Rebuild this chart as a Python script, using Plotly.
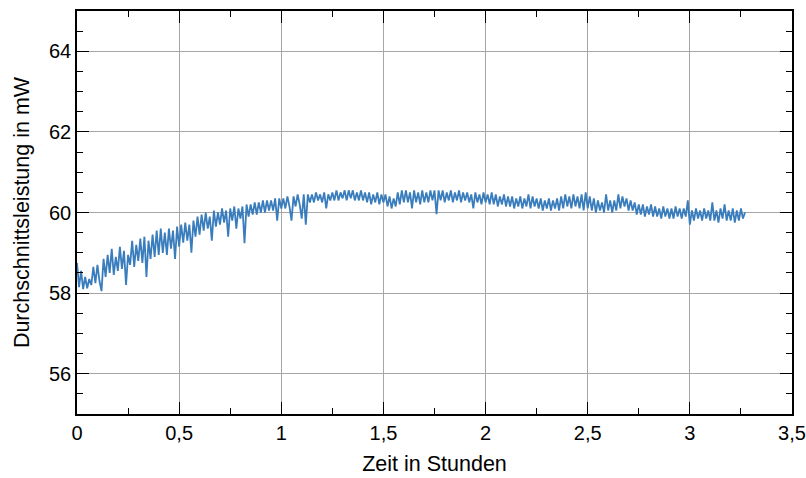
import numpy as np
import plotly.graph_objects as go

# Average power (mW), one sample every 0.01 h
p_mw = [
    # 0.00 - 0.10
    58.75, 58.15, 58.55, 58.10, 58.40, 58.12, 58.35, 58.20, 58.65, 58.25, 58.70,
    # 0.11 - 0.20
    58.30, 58.05, 58.85, 58.40, 58.95, 58.50, 59.10, 58.45, 58.90, 58.55,
    # 0.21 - 0.30
    59.15, 58.60, 59.05, 58.20, 58.95, 58.70, 59.30, 58.65, 59.20, 58.80,
    # 0.31 - 0.40
    59.35, 58.75, 59.40, 58.40, 59.30, 58.85, 59.45, 58.90, 59.55, 58.95,
    # 0.41 - 0.50
    59.60, 59.00, 59.50, 58.95, 59.60, 59.10, 59.55, 58.85, 59.65, 59.15,
    # 0.51 - 0.60
    59.70, 59.25, 59.75, 59.30, 59.70, 59.00, 59.80, 59.40, 59.90, 59.45,
    # 0.61 - 0.70
    59.95, 59.55, 60.00, 59.60, 59.90, 59.30, 60.05, 59.65, 60.00, 59.70,
    # 0.71 - 0.80
    60.10, 59.75, 60.05, 59.40, 60.10, 59.80, 60.15, 59.60, 60.10, 59.85,
    # 0.81 - 0.90
    60.15, 59.24, 60.20, 59.90, 60.20, 59.95, 60.25, 59.95, 60.25, 60.00,
    # 0.91 - 1.00
    60.30, 60.00, 60.30, 60.05, 60.30, 60.05, 60.35, 59.80, 60.35, 60.10,
    # 1.01 - 1.10
    60.35, 60.10, 60.40, 60.15, 59.80, 60.40, 60.15, 60.45, 60.20, 59.85,
    # 1.11 - 1.20
    60.45, 59.70, 60.45, 60.25, 60.45, 60.25, 60.50, 60.30, 60.45, 60.25,
    # 1.21 - 1.30
    60.50, 60.10, 60.45, 60.30, 60.50, 60.30, 60.55, 60.30, 60.50, 60.35,
    # 1.31 - 1.40
    60.55, 60.30, 60.55, 60.35, 60.55, 60.30, 60.50, 60.30, 60.55, 60.30,
    # 1.41 - 1.50
    60.50, 60.25, 60.50, 60.20, 60.45, 60.25, 60.50, 60.20, 60.45, 60.25,
    # 1.51 - 1.60
    60.45, 60.15, 60.40, 60.10, 60.35, 60.15, 60.50, 60.20, 60.55, 60.25,
    # 1.61 - 1.70
    60.55, 60.25, 60.50, 60.10, 60.55, 60.25, 60.50, 60.20, 60.55, 60.25,
    # 1.71 - 1.80
    60.50, 60.25, 60.55, 60.30, 60.55, 59.96, 60.55, 60.30, 60.55, 60.25,
    # 1.81 - 1.90
    60.50, 60.30, 60.55, 60.25, 60.50, 60.30, 60.55, 60.25, 60.50, 60.30,
    # 1.91 - 2.00
    60.50, 60.25, 60.45, 60.10, 60.50, 60.25, 60.45, 60.20, 60.50, 60.25,
    # 2.01 - 2.10
    60.45, 60.20, 60.50, 60.20, 60.45, 60.15, 60.40, 60.20, 60.45, 60.15,
    # 2.11 - 2.20
    60.40, 60.15, 60.40, 60.10, 60.35, 60.15, 60.40, 60.10, 60.35, 60.15,
    # 2.21 - 2.30
    60.45, 60.10, 60.40, 60.15, 60.35, 60.10, 60.35, 60.05, 60.30, 60.10,
    # 2.31 - 2.40
    60.35, 60.05, 60.30, 60.10, 60.35, 60.05, 60.40, 60.10, 60.45, 60.15,
    # 2.41 - 2.50
    60.40, 60.10, 60.45, 60.15, 60.40, 60.10, 60.45, 60.05, 60.50, 60.10,
    # 2.51 - 2.60
    60.40, 60.05, 60.35, 60.00, 60.30, 60.05, 60.25, 60.00, 60.45, 60.05,
    # 2.61 - 2.70
    60.30, 60.00, 60.30, 60.05, 60.45, 60.10, 60.40, 60.15, 60.35, 60.05,
    # 2.71 - 2.80
    60.30, 60.05, 60.25, 59.95, 60.20, 59.95, 60.20, 59.90, 60.15, 59.95,
    # 2.81 - 2.90
    60.20, 59.90, 60.15, 59.90, 60.10, 59.85, 60.15, 59.90, 60.10, 59.85,
    # 2.91 - 3.00
    60.10, 59.85, 60.15, 59.90, 60.10, 59.85, 60.10, 59.90, 60.30, 59.70,
    # 3.01 - 3.10
    60.05, 59.80, 60.10, 59.85, 60.05, 59.80, 60.10, 59.85, 60.05, 59.80,
    # 3.11 - 3.20
    60.25, 59.80, 60.05, 59.75, 60.10, 59.85, 60.20, 59.80, 60.05, 59.80,
    # 3.21 - 3.27
    60.10, 59.75, 60.05, 59.80, 60.10, 59.85, 60.00,
]
t_hours = np.round(np.arange(len(p_mw)) * 0.01, 2)

x_label = "Zeit in Stunden"
y_label = "Durchschnittsleistung in mW"

FONT = "Liberation Sans, Arial, sans-serif"

fig = go.Figure(
    go.Scatter(
        x=t_hours, y=p_mw, mode="lines",
        line=dict(color="#3a7dbd", width=1.8),
        showlegend=False,
    )
)

axis_common = dict(
    showline=True, linecolor="black", linewidth=1.5, mirror="ticks",
    ticks="inside", ticklen=12, tickwidth=1.2, tickcolor="black",
    showgrid=True, gridcolor="#a6a6a6", gridwidth=1,
    zeroline=False,
    tickfont=dict(family=FONT, size=20, color="black"),
)

fig.update_xaxes(
    range=[0, 3.5], dtick=0.5, tick0=0,
    minor=dict(dtick=0.25, ticks="inside", ticklen=6, tickcolor="black", showgrid=False),
    title=dict(text=x_label, font=dict(family=FONT, size=21.5, color="black"), standoff=13),
    **axis_common,
)
fig.update_yaxes(
    range=[55, 65], dtick=2, tick0=0,
    minor=dict(dtick=0.5, ticks="inside", ticklen=6, tickcolor="black", showgrid=False),
    title=dict(text=y_label, font=dict(family=FONT, size=21.5, color="black"), standoff=13),
    **axis_common,
)

fig.update_layout(
    width=806, height=478,
    margin=dict(l=77, r=14, t=11, b=64, autoexpand=False),
    plot_bgcolor="white", paper_bgcolor="white",
    separators=",.",
    font=dict(family=FONT, color="black"),
)

fig.write_html("out.html")
